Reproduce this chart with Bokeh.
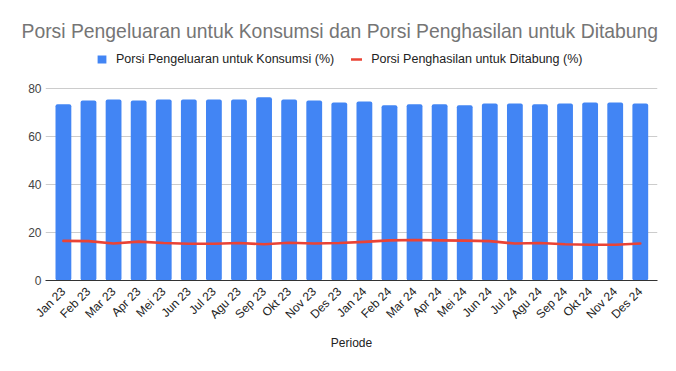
import math
from bokeh.plotting import figure
from bokeh.models import (Range1d, FixedTicker, Legend, LegendItem, ColumnDataSource)
from bokeh.embed import file_html
from bokeh.resources import INLINE

periods = ["Jan 23", "Feb 23", "Mar 23", "Apr 23", "Mei 23", "Jun 23", "Jul 23", "Agu 23",
           "Sep 23", "Okt 23", "Nov 23", "Des 23", "Jan 24", "Feb 24", "Mar 24", "Apr 24",
           "Mei 24", "Jun 24", "Jul 24", "Agu 24", "Sep 24", "Okt 24", "Nov 24", "Des 24"]
konsumsi = [73.4, 75.0, 75.4, 75.0, 75.4, 75.4, 75.4, 75.4, 76.4, 75.4, 75.0, 74.2,
            74.6, 73.0, 73.4, 73.4, 73.0, 73.8, 73.8, 73.4, 73.8, 74.2, 74.2, 73.8]
ditabung = [16.5, 16.4, 15.4, 16.2, 15.6, 15.3, 15.3, 15.6, 15.1, 15.7, 15.4, 15.6,
            16.1, 16.7, 16.9, 16.7, 16.6, 16.4, 15.4, 15.6, 15.1, 14.9, 14.9, 15.4]
y_ticks = [0, 20, 40, 60, 80]

title_text = "Porsi Pengeluaran untuk Konsumsi dan Porsi Penghasilan untuk Ditabung"
name_bar = "Porsi Pengeluaran untuk Konsumsi (%)"
name_line = "Porsi Penghasilan untuk Ditabung (%)"

FONT = "Liberation Sans"
idx = list(range(len(periods)))
src = ColumnDataSource(dict(x=idx, k=konsumsi, d=ditabung))

# the frame reaches up to the legend row; the value axis stops at 80
p = figure(width=676, height=371, output_backend="svg", toolbar_location=None,
           x_range=Range1d(-0.714, 23.686), y_range=Range1d(0, 96.67),
           min_border_left=45, min_border_right=19, min_border_top=48, min_border_bottom=91)
p.outline_line_color = None
p.background_fill_color = "white"

bars = p.vbar(x="x", top="k", width=0.63, bottom=0, source=src,
              fill_color="#4285F4", line_color=None, border_radius=2)
line = p.line(x="x", y="d", source=src, line_color="#EA4335", line_width=2.6,
              line_join="round", line_cap="round")

# title
p.title.text = title_text
p.title.text_font = FONT
p.title.text_font_size = "19.35px"
p.title.text_font_style = "normal"
p.title.text_color = "#757575"
p.title.align = "left"
p.title.offset = -24
p.title.standoff = 14

# axes
xa = p.xaxis[0]
xa.ticker = FixedTicker(ticks=idx)
xa.major_label_overrides = {i: lab for i, lab in enumerate(periods)}
xa.major_label_orientation = math.pi / 4
xa.major_label_text_font = FONT
xa.major_label_text_font_size = "12px"
xa.major_label_text_color = "#222222"
xa.major_tick_line_color = None
xa.major_tick_out = 0
xa.major_tick_in = 0
xa.minor_tick_line_color = None
xa.axis_line_color = "#333333"
xa.axis_line_width = 1
xa.major_label_standoff = 9
xa.axis_label = "Periode"
xa.axis_label_text_font = FONT
xa.axis_label_text_font_size = "12px"
xa.axis_label_text_font_style = "normal"
xa.axis_label_text_color = "#222222"
xa.axis_label_standoff = 7

ya = p.yaxis[0]
ya.ticker = FixedTicker(ticks=y_ticks)
ya.major_label_text_font = FONT
ya.major_label_text_font_size = "12px"
ya.major_label_text_color = "#444444"
ya.major_tick_line_color = None
ya.major_tick_out = 0
ya.major_tick_in = 0
ya.minor_tick_line_color = None
ya.axis_line_color = None
ya.major_label_standoff = 4

p.xgrid.grid_line_color = None
p.ygrid.grid_line_color = "#cccccc"
p.ygrid.grid_line_width = 1

legend = Legend(items=[LegendItem(label=name_bar, renderers=[bars]),
                       LegendItem(label=name_line, renderers=[line])],
                orientation="horizontal", location=(51, 214),
                padding=0, margin=0, spacing=17, label_standoff=9,
                glyph_width=11, glyph_height=10, label_height=12,
                label_text_font=FONT, label_text_font_size="12.5px",
                label_text_color="#222222", background_fill_alpha=0,
                border_line_color=None)
p.add_layout(legend, "center")

open("out.html", "w").write(file_html(p, INLINE))
